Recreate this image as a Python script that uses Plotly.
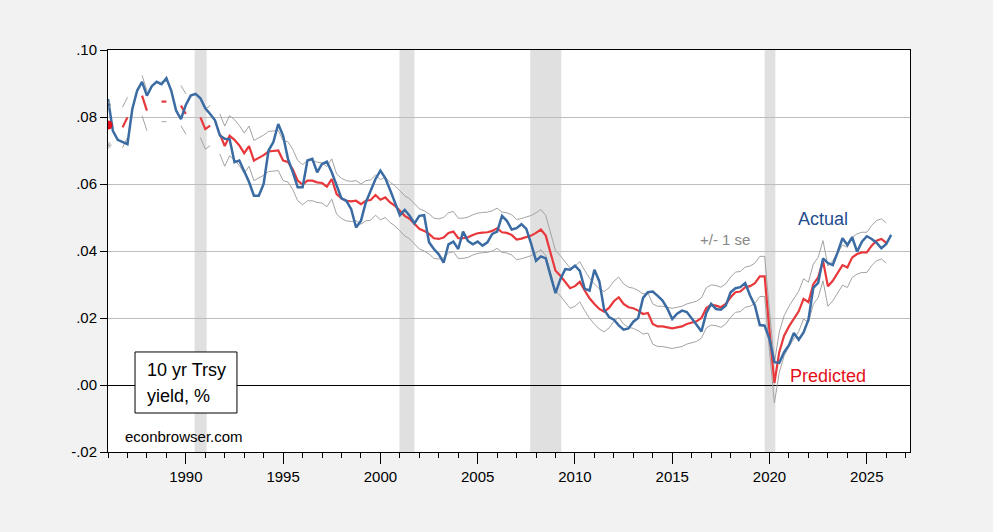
import plotly.graph_objects as go
import math

NaN = float("nan")

# Quarterly observations, 1986Q1 onward (decimal-year dates)
start_year = 1986.0
actual = [
    .0854, .0759, .0732, .0726, .0719, .0824, .0879, .0905, .0864, .0892,
    .0905, .0898, .0916, .0879, .0819, .0794, .0836, .0864, .0869, .0856,
    .0826, .0809, .0790, .0745, .0735, .0734, .0665, .0670, .0640, .0606,
    .0565, .0565, .0600, .0700, .0725, .0779, .0744, .0675, .0635, .0590,
    .0590, .0670, .0675, .0635, .0660, .0667, .0635, .0595, .0557, .0550,
    .0525, .0470, .0490, .0545, .0580, .0615, .0640, .0618, .0582, .0547,
    .0507, .0523, .0505, .0482, .0505, .0507, .0426, .0406, .0390, .0365,
    .0420, .0428, .0406, .0458, .0430, .0420, .0428, .0416, .0426, .0451,
    .0458, .0505, .0490, .0464, .0468, .0480, .0466, .0421, .0371, .0384,
    .0378, .0326, .0274, .0316, .0346, .0344, .0356, .0341, .0287, .0282,
    .0344, .0310, .0225, .0203, .0195, .0178, .0165, .0169, .0189, .0200,
    .0260, .0277, .0279, .0266, .0252, .0228, .0197, .0213, .0222, .0218,
    .0200, .0180, .0160, .0215, .0242, .0227, .0225, .0237, .0277, .0289,
    .0292, .0304, .0267, .0237, .0179, .0177, .0137, .0068, .0066, .0098,
    .0119, .0155, .0135, .0157, .0195, .0290, .0305, .0378, .0364, .0358,
    .0396, .0438, .0418, .0441, .0398, .0428, .0444, .0436, .0425, .0408,
    .0421, .0448,
]
predicted = [
    .0776, NaN, NaN, .0769, .0799, NaN, NaN, .0864, .0819, NaN,
    NaN, .0846, .0846, NaN, NaN, .0834, .0809, NaN, NaN, .0799,
    .0764, .0774, NaN, .0749, .0713, .0744, .0732, .0715, .0692, .0713,
    .0670, .0678, .0686, .0697, .0698, .0700, .0670, .0666, .0643, .0610,
    .0598, .0610, .0610, .0605, .0603, .0592, .0615, .0570, .0557, .0550,
    .0548, .0550, .0540, .0550, .0552, .0567, .0553, .0560, .0545, .0535,
    .0520, .0505, .0496, .0480, .0466, .0460, .0451, .0438, .0436, .0440,
    .0454, .0458, .0438, .0438, .0441, .0448, .0453, .0455, .0456, .0460,
    .0468, .0456, .0454, .0448, .0434, .0437, .0441, .0446, .0454, .0464,
    .0446, .0396, .0341, .0326, .0307, .0289, .0295, .0308, .0282, .0259,
    .0242, .0227, .0219, .0230, .0250, .0262, .0242, .0232, .0229, .0222,
    .0212, .0215, .0182, .0175, .0175, .0172, .0169, .0172, .0175, .0182,
    .0187, .0190, .0200, .0230, .0239, .0237, .0232, .0242, .0262, .0277,
    .0279, .0292, .0295, .0304, .0324, .0324, .0160, .0006, .0098, .0147,
    .0175, .0197, .0220, .0257, .0247, .0301, .0321, .0371, .0295, .0311,
    .0336, .0358, .0351, .0381, .0391, .0396, .0396, .0416, .0431, .0436,
    .0424, NaN,
]
se = 0.006  # +/- 1 standard error band half-width

recessions = [(1990.45, 1991.07), (2000.98, 2001.75), (2007.7, 2009.3), (2019.75, 2020.3)]

y_ticks = [-0.02, 0.00, 0.02, 0.04, 0.06, 0.08, 0.10]
y_labels = ["-.02", ".00", ".02", ".04", ".06", ".08", ".10"]

dates = [start_year + 0.25 * i for i in range(len(actual))]
upper = [p + se if not math.isnan(p) else NaN for p in predicted]
lower = [p - se if not math.isnan(p) else NaN for p in predicted]

BLUE = "#3A6BA3"
RED = "#E8383B"
GRAY = "#A3A3A3"
BG = "#F2F2F2"
FONT = "Liberation Sans, Arial, sans-serif"

fig = go.Figure()
fig.add_trace(go.Scatter(x=dates, y=upper, mode="lines", line=dict(color=GRAY, width=1),
                         connectgaps=False, hoverinfo="skip"))
fig.add_trace(go.Scatter(x=dates, y=lower, mode="lines", line=dict(color=GRAY, width=1),
                         connectgaps=False, hoverinfo="skip"))
fig.add_trace(go.Scatter(x=dates, y=predicted, mode="lines", line=dict(color=RED, width=2.2),
                         connectgaps=False))
fig.add_trace(go.Scatter(x=dates, y=actual, mode="lines", line=dict(color=BLUE, width=2.5)))
# isolated first observation markers
fig.add_trace(go.Scatter(x=dates[:1], y=predicted[:1], mode="markers",
                         marker=dict(color="#E8101A", size=9)))
fig.add_trace(go.Scatter(x=dates[:1], y=upper[:1], mode="markers",
                         marker=dict(color=GRAY, size=5, symbol="circle-open")))
fig.add_trace(go.Scatter(x=dates[:1], y=lower[:1], mode="markers",
                         marker=dict(color=GRAY, size=6, symbol="asterisk-open")))

for x0, x1 in recessions:
    fig.add_shape(type="rect", xref="x", yref="paper", x0=x0, x1=x1, y0=0, y1=1,
                  fillcolor="#E0E0E0", line=dict(width=0), layer="below")

# label box
fig.add_shape(type="rect", xref="paper", yref="paper", x0=0.0337, x1=0.1608, y0=0.097, y1=0.2488,
              line=dict(color="black", width=1), fillcolor="white")

ann = [
    dict(text="10 yr Trsy", x=(145 - 108) / 802, y=(452 - 370) / 402, size=18, color="black"),
    dict(text="yield, %", x=(145 - 108) / 802, y=(452 - 396) / 402, size=18, color="black"),
    dict(text="econbrowser.com", x=(123 - 108) / 802, y=(452 - 436) / 402, size=15, color="black"),
    dict(text="Actual", x=(796 - 108) / 802, y=(452 - 219) / 402, size=18, color="#1F4E8F"),
    dict(text="Predicted", x=(788 - 108) / 802, y=(452 - 376) / 402, size=18, color="#E3101A"),
    dict(text="+/- 1 se", x=(698 - 108) / 802, y=(452 - 240) / 402, size=15, color="#888888"),
]
for a in ann:
    fig.add_annotation(xref="paper", yref="paper", xanchor="left", yanchor="middle",
                       showarrow=False, text=a["text"], x=a["x"], y=a["y"],
                       font=dict(family=FONT, size=a["size"], color=a["color"]))

fig.update_layout(
    width=993, height=532,
    margin=dict(l=108, r=83, t=50, b=80),
    paper_bgcolor=BG, plot_bgcolor="white",
    showlegend=False,
    font=dict(family=FONT, size=15, color="black"),
    xaxis=dict(range=[1986.0, 2027.22], tickmode="linear", tick0=1990, dtick=5,
               ticks="outside", ticklen=11, tickcolor="black", tickwidth=1,
               showline=True, linecolor="black", linewidth=1, mirror=True,
               showgrid=False, zeroline=False, tickfont=dict(size=15),
               minor=dict(ticks="outside", ticklen=5, tick0=1986, dtick=1,
                          tickcolor="black", showgrid=False)),
    yaxis=dict(range=[-0.02, 0.10], tickmode="array", tickvals=y_ticks, ticktext=y_labels,
               ticks="outside", ticklen=7, tickcolor="black",
               showline=True, linecolor="black", linewidth=1, mirror=True,
               showgrid=True, gridcolor="#BDBDBD", gridwidth=1,
               zeroline=True, zerolinecolor="black", zerolinewidth=1,
               tickfont=dict(size=15)),
)

fig.write_html(
    "out.html",
    config={"displayModeBar": False},
    post_script="document.body.style.margin='0';document.body.style.overflow='hidden';"
                "document.body.style.background='" + BG + "';",
)
